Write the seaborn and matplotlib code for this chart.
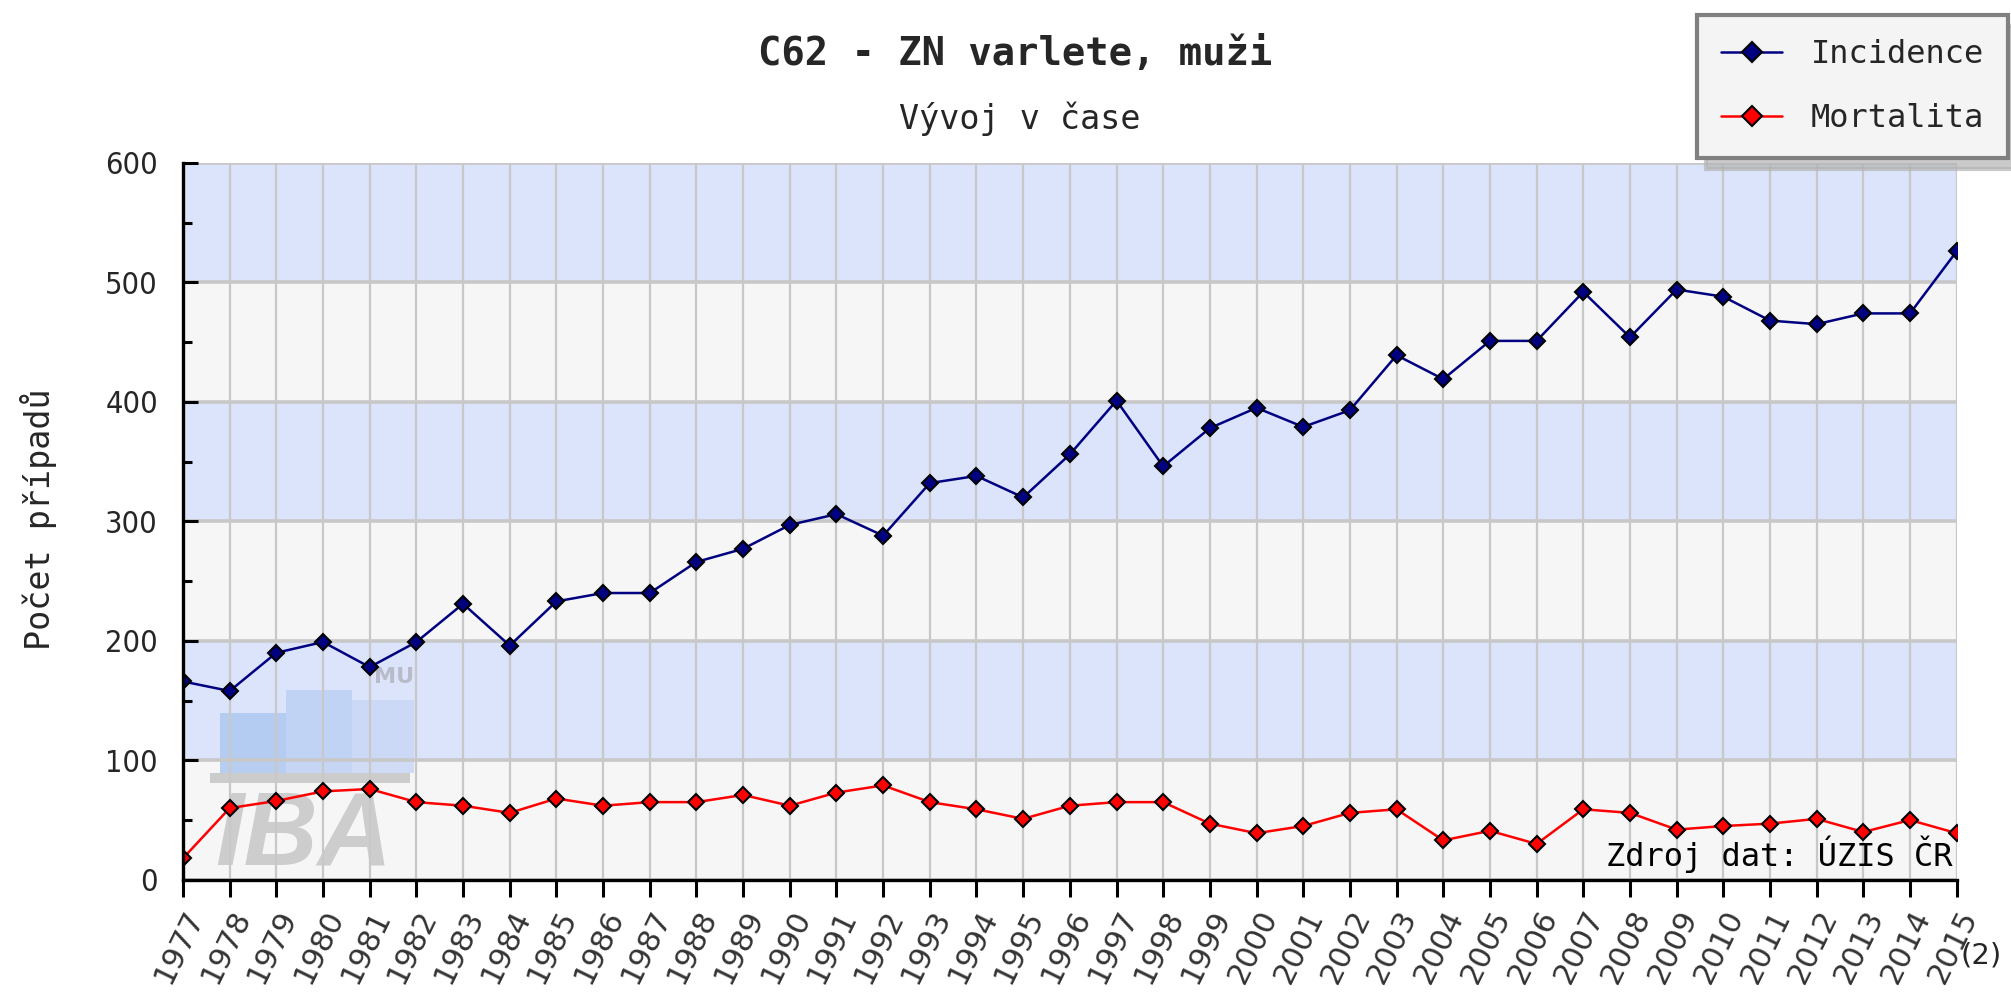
"""
C62 - ZN varlete, muzi: incidence a mortalita v case
"""
import matplotlib
matplotlib.use('Agg')
import matplotlib.pyplot as plt
import seaborn as sns
from matplotlib.patches import Rectangle
from matplotlib.ticker import MultipleLocator

YEARS = list(range(1977, 2016))
INCIDENCE = [166, 158, 190, 199, 178, 199, 231, 196, 233, 240, 240, 266, 277, 297, 306, 288,
             332, 338, 320, 356, 401, 346, 378, 395, 379, 393, 439, 419, 451, 451, 492, 454,
             494, 488, 468, 465, 474, 474, 526]
MORTALITY = [18, 60, 66, 74, 76, 65, 62, 56, 68, 62, 65, 65, 71, 62, 73, 79, 65, 59, 51, 62,
             65, 65, 47, 39, 45, 56, 59, 33, 41, 30, 59, 56, 42, 45, 47, 51, 40, 50, 39]
SERIES_LABELS = ['Incidence', 'Mortalita']
SERIES_COLORS = ['#000080', '#ff0000']
Y_TICKS = [0, 100, 200, 300, 400, 500, 600]

TITLE = 'C62 - ZN varlete, muži'
SUBTITLE = 'Vývoj v čase'
Y_LABEL = 'Počet případů'
SOURCE = 'Zdroj dat: ÚZIS ČR'

MONO = ['DejaVu Sans Mono']
BAND_BLUE = '#dce4fc'
BAND_GRAY = '#f6f6f6'
GRID = '#c8c8c8'

sns.set_style('white')
plt.rcParams['font.family'] = ['DejaVu Sans']

fig = plt.figure(figsize=(20.11, 9.93), dpi=100)
ax = fig.add_axes([0.091, 0.114, 0.882, 0.722])

# alternating horizontal bands
for i, (low, high) in enumerate(zip(Y_TICKS[:-1], Y_TICKS[1:])):
    ax.axhspan(low, high, color=BAND_GRAY if i % 2 == 0 else BAND_BLUE, zorder=0.1, lw=0)

# faint IBA / MU watermark in the lower left corner
for x0, x1, top, col in [(0.021, 0.058, 0.233, '#aec8f0'),
                         (0.058, 0.095, 0.265, '#bdd0f3'),
                         (0.095, 0.130, 0.251, '#cad8f5')]:
    ax.add_patch(Rectangle((x0, 0.149), x1 - x0, top - 0.149, transform=ax.transAxes,
                           facecolor=col, edgecolor='none', alpha=0.85, zorder=0.3))
ax.add_patch(Rectangle((0.015, 0.135), 0.113, 0.014, transform=ax.transAxes,
                       facecolor='#cccccc', edgecolor='none', zorder=0.3))
ax.text(0.119, 0.283, 'MU', transform=ax.transAxes, ha='center', va='center', fontsize=16,
        fontweight='bold', color='#b8bcc8', zorder=0.3)
ax.text(0.018, 0.022, 'IBA', transform=ax.transAxes, ha='left', va='baseline', fontsize=74,
        fontweight='bold', fontstyle='italic', family=['Liberation Sans', 'DejaVu Sans'],
        color='#cdcdcd', zorder=0.3)

for values, label, color in zip([INCIDENCE, MORTALITY], SERIES_LABELS, SERIES_COLORS):
    sns.lineplot(x=YEARS, y=values, ax=ax, color=color, label=label, linewidth=1.8,
                 marker='D', markersize=8, markerfacecolor=color, markeredgecolor='black',
                 markeredgewidth=1.5, zorder=3)

ax.set_xlim(YEARS[0], YEARS[-1])
ax.set_ylim(Y_TICKS[0], Y_TICKS[-1])
ax.set_xticks(YEARS)
ax.set_yticks(Y_TICKS)
ax.yaxis.set_minor_locator(MultipleLocator(50))
ax.set_xlabel('')
ax.set_ylabel('')

ax.set_axisbelow(True)
ax.xaxis.grid(True, color=GRID, linewidth=1.6)
ax.yaxis.grid(True, color=GRID, linewidth=2.6)

for side in ['top', 'right']:
    ax.spines[side].set_visible(False)
for side in ['left', 'bottom']:
    ax.spines[side].set_color('black')
    ax.spines[side].set_linewidth(2.4)
    ax.spines[side].set_zorder(4)

ax.tick_params(axis='x', direction='out', length=12, width=2.2, color='black', pad=6,
               labelsize=22, labelcolor='#333333', bottom=True)
ax.tick_params(axis='y', which='major', direction='in', length=11, width=2.2, color='black',
               pad=18, labelsize=22, left=True)
ax.tick_params(axis='y', which='minor', direction='in', length=6.5, width=2.2, color='black',
               left=True)
for lbl in ax.get_xticklabels():
    lbl.set_rotation(64)
    lbl.set_ha('right')
    lbl.set_rotation_mode('anchor')
for lbl in ax.get_yticklabels():
    lbl.set_fontstretch('condensed')

ax.text(0.9977, 0.0195, SOURCE, transform=ax.transAxes, ha='right', va='baseline',
        fontsize=23, family=MONO, color='black', zorder=5)

leg = ax.legend(loc='upper right', bbox_to_anchor=(0.9985, 0.985), bbox_transform=fig.transFigure,
                borderaxespad=0, prop={'family': MONO, 'size': 23}, frameon=True, fancybox=False,
                framealpha=1, facecolor='#f4f4f4', edgecolor='#808080', handlelength=1.9,
                handletextpad=0.9, labelspacing=1.05, borderpad=0.75, markerscale=1.3,
                shadow={'ox': 6, 'oy': -8, 'color': '#b4b4b4', 'alpha': 0.7})
leg.get_frame().set_linewidth(3)

fig.text(0.505, 0.946, TITLE, ha='center', va='center', fontsize=28, fontweight='bold', family=MONO)
fig.text(0.507, 0.880, SUBTITLE, ha='center', va='center', fontsize=24, family=MONO)
fig.text(0.019, 0.477, Y_LABEL, ha='center', va='center', rotation=90, fontsize=24, family=MONO)
fig.text(0.985, 0.038, '(2)', ha='center', va='center', fontsize=21)

fig.savefig('out.png', dpi=100)
